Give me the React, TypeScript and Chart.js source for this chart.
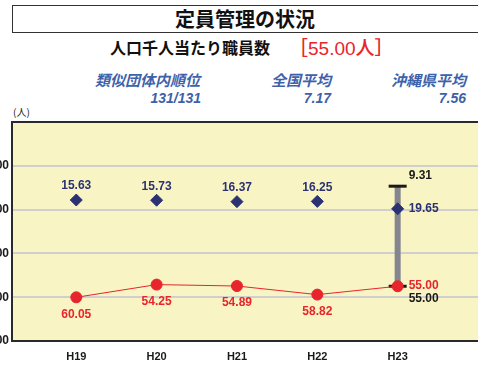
import React, { useEffect, useRef } from "react";
import { Chart, registerables } from "chart.js";
Chart.register(...registerables);

const categories = ["H19", "H20", "H21", "H22", "H23"];
const similarAvg = [15.63, 15.73, 16.37, 16.25, 19.65];
const ownValues = [60.05, 54.25, 54.89, 58.82, 55.0];
const rangeX = 4;
const rangeValues = [9.31, 55.0];
const yTicks = [-20, 0, 20, 40, 60, 80];

const NAVY = "#2b3272";
const RED = "#e8242c";
const GREY = "#85858f";
const FONT = "'Liberation Sans', Arial, sans-serif";
const JP = "'Noto Sans CJK JP', sans-serif";

const framePlugin = {
  id: "frame",
  beforeDraw(chart: any) {
    const { ctx, chartArea: a } = chart;
    ctx.save();
    ctx.fillStyle = "#f8f4c4";
    ctx.fillRect(a.left, a.top, a.right - a.left, a.bottom - a.top);
    ctx.restore();
  },
  afterDatasetsDraw(chart: any) {
    const { ctx, chartArea: a } = chart;
    ctx.save();
    ctx.strokeStyle = "#2a2a2a";
    ctx.lineWidth = 2;
    ctx.beginPath();
    ctx.moveTo(a.right + 5, a.top);
    ctx.lineTo(a.left, a.top);
    ctx.lineTo(a.left, a.bottom);
    ctx.lineTo(a.right + 5, a.bottom);
    ctx.stroke();
    ctx.restore();
  },
};

const labelPlugin = {
  id: "valueLabels",
  afterDatasetsDraw(chart: any) {
    const { ctx } = chart;
    ctx.save();
    ctx.font = `bold 12px ${FONT}`;
    ctx.textBaseline = "middle";
    const last = categories.length - 1;
    chart.getDatasetMeta(0).data.forEach((p: any, i: number) => {
      ctx.fillStyle = NAVY;
      const t = similarAvg[i].toFixed(2);
      if (i === last) {
        ctx.textAlign = "left";
        ctx.fillText(t, p.x + 11, p.y);
      } else {
        ctx.textAlign = "center";
        ctx.fillText(t, p.x, p.y - 14);
      }
    });
    chart.getDatasetMeta(1).data.forEach((p: any, i: number) => {
      ctx.fillStyle = RED;
      const t = ownValues[i].toFixed(2);
      if (i === last) {
        ctx.textAlign = "left";
        ctx.fillText(t, p.x + 11, p.y - 1);
      } else {
        ctx.textAlign = "center";
        ctx.fillText(t, p.x, p.y + 17);
      }
    });
    const m = chart.getDatasetMeta(2).data;
    ctx.fillStyle = "#1a1a1a";
    ctx.textAlign = "left";
    ctx.fillText(rangeValues[0].toFixed(2), m[0].x + 11, m[0].y - 11);
    ctx.fillText(rangeValues[1].toFixed(2), m[1].x + 11, m[1].y + 12);
    ctx.restore();
  },
};

function ChartView() {
  const ref = useRef<HTMLCanvasElement>(null);
  useEffect(() => {
    if (!ref.current) return;
    const chart = new Chart(ref.current, {
      type: "line",
      data: {
        datasets: [
          {
            data: similarAvg.map((v, i) => ({ x: i, y: v })),
            showLine: false,
            pointStyle: "rectRot",
            pointRadius: 6,
            backgroundColor: NAVY,
            borderColor: NAVY,
            order: 0,
          },
          {
            data: ownValues.map((v, i) => ({ x: i, y: v })),
            borderColor: RED,
            borderWidth: 1,
            pointStyle: "circle",
            pointRadius: 5.5,
            backgroundColor: RED,
            pointBackgroundColor: RED,
            pointBorderColor: RED,
            order: 1,
          },
          {
            data: rangeValues.map((v) => ({ x: rangeX, y: v })),
            borderColor: GREY,
            borderWidth: 6,
            pointStyle: "line",
            pointRadius: 9,
            pointBorderColor: "#1a1a1a",
            pointBorderWidth: 3,
            order: 2,
          },
        ],
      },
      options: {
        animation: false,
        responsive: false,
        maintainAspectRatio: false,
        layout: { padding: { top: 9, right: 10, left: 0, bottom: 0 } },
        plugins: { legend: { display: false }, tooltip: { enabled: false } },
        scales: {
          x: {
            type: "linear",
            min: -0.8,
            max: 5.0,
            afterBuildTicks: (s: any) => {
              s.ticks = categories.map((_, i) => ({ value: i }));
            },
            afterFit: (s: any) => {
              s.height = 24;
            },
            ticks: {
              callback: (v: any) => categories[v] ?? "",
              color: "#1a1a1a",
              font: { family: FONT, size: 11, weight: "bold" },
              padding: 9,
              autoSkip: false,
              maxRotation: 0,
            },
            grid: { display: false, drawTicks: false },
            border: { display: false },
          },
          y: {
            type: "linear",
            reverse: true,
            min: -20,
            max: 80,
            afterBuildTicks: (s: any) => {
              s.ticks = yTicks.map((v) => ({ value: v }));
            },
            afterFit: (s: any) => {
              s.width = 52;
            },
            ticks: {
              callback: (v: any) => (v === yTicks[0] ? "" : Number(v).toFixed(2)),
              color: "#1a1a1a",
              font: { family: FONT, size: 12, weight: "bold" },
              padding: 3,
            },
            grid: {
              color: "#cfcfcf",
              lineWidth: 2,
              drawTicks: false,
            },
            border: { display: false },
          },
        },
      },
      plugins: [framePlugin, labelPlugin],
    } as any);
    return () => chart.destroy();
  }, []);
  return (
    <canvas
      ref={ref}
      width={530}
      height={255}
      style={{ position: "absolute", left: -40, top: 110, width: 530, height: 255 }}
    />
  );
}

export default function App() {
  const blue = "#3d62aa";
  const italic: React.CSSProperties = {
    position: "absolute",
    fontFamily: JP,
    fontStyle: "italic",
    fontWeight: 700,
    color: blue,
    fontSize: 15,
    lineHeight: "18px",
    textAlign: "right",
    whiteSpace: "nowrap",
  };
  return (
    <div
      style={{
        position: "fixed",
        left: 0,
        top: 0,
        width: 478,
        height: 365,
        overflow: "hidden",
        background: "#ffffff",
      }}
    >
      <div
        style={{
          position: "absolute",
          left: 12,
          top: 5,
          width: 480,
          height: 28,
          border: "1px solid #333",
          boxSizing: "border-box",
        }}
      />
      <div
        style={{
          position: "absolute",
          left: 0,
          width: 490,
          top: 5,
          height: 28,
          lineHeight: "28px",
          textAlign: "center",
          fontFamily: JP,
          fontWeight: 700,
          fontSize: 20,
          color: "#111",
        }}
      >
        定員管理の状況
      </div>
      <div
        style={{
          position: "absolute",
          left: 110,
          top: 36,
          lineHeight: "22px",
          fontFamily: JP,
          fontWeight: 700,
          fontSize: 16,
          color: "#111",
          whiteSpace: "nowrap",
        }}
      >
        人口千人当たり職員数
      </div>
      <div
        style={{
          position: "absolute",
          left: 289,
          top: 35,
          lineHeight: "24px",
          fontFamily: FONT,
          fontSize: 19,
          fontWeight: 500,
          color: RED,
          whiteSpace: "nowrap",
        }}
      >
        <span style={{ fontFamily: JP }}>［</span>55.00<span style={{ fontFamily: JP }}>人］</span>
      </div>
      <div style={{ ...italic, right: 478 - 200, top: 71 }}>類似団体内順位</div>
      <div style={{ ...italic, right: 478 - 201, top: 89, fontFamily: FONT, fontSize: 14 }}>131/131</div>
      <div style={{ ...italic, right: 478 - 331, top: 71 }}>全国平均</div>
      <div style={{ ...italic, right: 478 - 331, top: 89, fontFamily: FONT, fontSize: 14 }}>7.17</div>
      <div style={{ ...italic, right: 478 - 466, top: 71 }}>沖縄県平均</div>
      <div style={{ ...italic, right: 478 - 466, top: 89, fontFamily: FONT, fontSize: 14 }}>7.56</div>
      <div
        style={{
          position: "absolute",
          left: 13,
          top: 106,
          fontFamily: JP,
          fontSize: 10,
          lineHeight: "12px",
          color: "#222",
        }}
      >
        (人)
      </div>
      <ChartView />
    </div>
  );
}
